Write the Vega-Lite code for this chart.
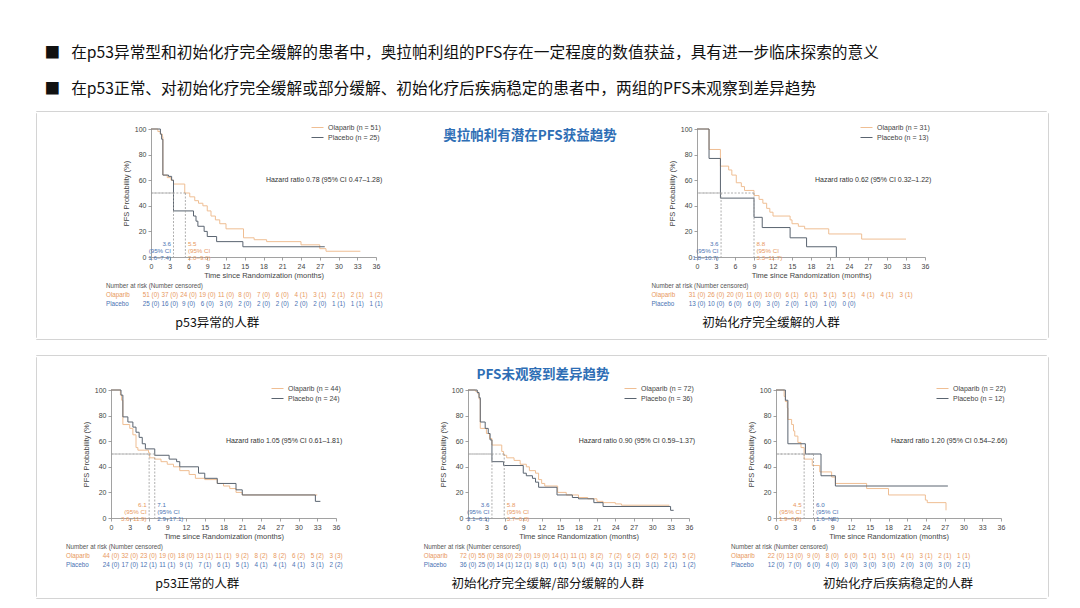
{
"$schema": "https://vega.github.io/schema/vega-lite/v6.json",
"background": "white",
"padding": {"left": 35, "top": 44, "right": 0, "bottom": 0},
"config": {
  "aria": false,
  "view": {"stroke": null},
  "font": "Liberation Sans",
  "axis": {"domainColor": "#8a8a8a", "tickColor": "#8a8a8a", "domainWidth": 0.8, "tickWidth": 0.8, "tickSize": 3, "labelColor": "#444", "labelFontSize": 7, "labelPadding": 2, "titleColor": "#444", "titleFontSize": 7.5, "titleFontWeight": "normal", "titlePadding": 2, "grid": false, "labelFlush": false, "labelOverlap": false},
  "axisY": {"titlePadding": 4},
  "legend": {"orient": "top-right", "offset": -5, "padding": 0, "labelFontSize": 7, "labelColor": "#444", "symbolType": "M-2,0L2,0", "symbolSize": 36, "symbolStrokeWidth": 1, "labelOffset": 7, "rowPadding": 2, "labelLimit": 300}
},
"title": {"text": ["■\u2002\u2009在p53异常型和初始化疗完全缓解的患者中，奥拉帕利组的PFS存在一定程度的数值获益，具有进一步临床探索的意义", "■\u2002\u2009在p53正常、对初始化疗完全缓解或部分缓解、初始化疗后疾病稳定的患者中，两组的PFS未观察到差异趋势"], "anchor": "start", "font": "Noto Sans CJK SC", "fontSize": 15.7, "fontWeight": "normal", "color": "#111", "lineHeight": 36, "dx": 9, "offset": 13},
"datasets": {
  "km1": [
    {"a":"Olaparib","t":0,"s":100},{"a":"Olaparib","t":1.1,"s":98},{"a":"Olaparib","t":1.5,"s":96},{"a":"Olaparib","t":1.8,"s":94},{"a":"Olaparib","t":1.9,"s":64},{"a":"Olaparib","t":2.6,"s":62},{"a":"Olaparib","t":3.2,"s":60},{"a":"Olaparib","t":3.6,"s":57},{"a":"Olaparib","t":5.4,"s":50},{"a":"Olaparib","t":6.2,"s":47},{"a":"Olaparib","t":7.0,"s":44},{"a":"Olaparib","t":7.6,"s":42},{"a":"Olaparib","t":8.3,"s":40},{"a":"Olaparib","t":9.0,"s":36},{"a":"Olaparib","t":9.6,"s":32},{"a":"Olaparib","t":10.3,"s":29},{"a":"Olaparib","t":11.0,"s":26},{"a":"Olaparib","t":12.0,"s":22},{"a":"Olaparib","t":14.8,"s":15},{"a":"Olaparib","t":16.5,"s":13.5},{"a":"Olaparib","t":18.5,"s":12},{"a":"Olaparib","t":24.0,"s":9.5},{"a":"Olaparib","t":27.0,"s":6.5},{"a":"Olaparib","t":28.0,"s":4.5},{"a":"Olaparib","t":33.5,"s":4.5},
    {"a":"Placebo","t":0,"s":100},{"a":"Placebo","t":1.5,"s":96},{"a":"Placebo","t":1.7,"s":92},{"a":"Placebo","t":1.9,"s":64},{"a":"Placebo","t":2.8,"s":63},{"a":"Placebo","t":3.3,"s":60},{"a":"Placebo","t":3.6,"s":36},{"a":"Placebo","t":6.8,"s":32},{"a":"Placebo","t":7.2,"s":28},{"a":"Placebo","t":7.5,"s":24},{"a":"Placebo","t":8.5,"s":20},{"a":"Placebo","t":9.0,"s":16},{"a":"Placebo","t":10.5,"s":12},{"a":"Placebo","t":14.7,"s":8},{"a":"Placebo","t":27.8,"s":8}
  ],
  "km2": [
    {"a":"Olaparib","t":0,"s":100},{"a":"Olaparib","t":1.9,"s":84},{"a":"Olaparib","t":3.7,"s":71},{"a":"Olaparib","t":5.0,"s":68},{"a":"Olaparib","t":5.5,"s":64},{"a":"Olaparib","t":6.2,"s":58},{"a":"Olaparib","t":7.0,"s":55},{"a":"Olaparib","t":7.5,"s":52},{"a":"Olaparib","t":9.0,"s":48},{"a":"Olaparib","t":9.8,"s":45},{"a":"Olaparib","t":10.4,"s":42},{"a":"Olaparib","t":11.0,"s":38},{"a":"Olaparib","t":11.5,"s":35},{"a":"Olaparib","t":12.0,"s":32},{"a":"Olaparib","t":14.7,"s":29},{"a":"Olaparib","t":15.0,"s":26},{"a":"Olaparib","t":16.0,"s":24},{"a":"Olaparib","t":17.0,"s":22},{"a":"Olaparib","t":20.8,"s":18},{"a":"Olaparib","t":26.0,"s":14},{"a":"Olaparib","t":33.0,"s":14},
    {"a":"Placebo","t":0,"s":100},{"a":"Placebo","t":1.9,"s":77},{"a":"Placebo","t":3.7,"s":46},{"a":"Placebo","t":9.0,"s":31},{"a":"Placebo","t":10.3,"s":23},{"a":"Placebo","t":14.7,"s":15},{"a":"Placebo","t":17.3,"s":8},{"a":"Placebo","t":22.0,"s":0}
  ],
  "km3": [
    {"a":"Olaparib","t":0,"s":100},{"a":"Olaparib","t":1.5,"s":96},{"a":"Olaparib","t":1.7,"s":92},{"a":"Olaparib","t":1.9,"s":73},{"a":"Olaparib","t":3.0,"s":70},{"a":"Olaparib","t":3.5,"s":65},{"a":"Olaparib","t":4.0,"s":55},{"a":"Olaparib","t":4.3,"s":53},{"a":"Olaparib","t":6.0,"s":51},{"a":"Olaparib","t":6.2,"s":47},{"a":"Olaparib","t":7.0,"s":46},{"a":"Olaparib","t":8.0,"s":44},{"a":"Olaparib","t":9.0,"s":42},{"a":"Olaparib","t":10.0,"s":40},{"a":"Olaparib","t":11.0,"s":37},{"a":"Olaparib","t":12.5,"s":34},{"a":"Olaparib","t":13.5,"s":31},{"a":"Olaparib","t":15.0,"s":30},{"a":"Olaparib","t":17.0,"s":27},{"a":"Olaparib","t":18.0,"s":25},{"a":"Olaparib","t":19.0,"s":23},{"a":"Olaparib","t":20.0,"s":20},{"a":"Olaparib","t":21.0,"s":18},{"a":"Olaparib","t":33.0,"s":18},
    {"a":"Placebo","t":0,"s":100},{"a":"Placebo","t":1.6,"s":96},{"a":"Placebo","t":1.9,"s":79},{"a":"Placebo","t":2.7,"s":75},{"a":"Placebo","t":3.5,"s":71},{"a":"Placebo","t":4.0,"s":67},{"a":"Placebo","t":4.5,"s":63},{"a":"Placebo","t":5.0,"s":58},{"a":"Placebo","t":5.5,"s":54},{"a":"Placebo","t":7.0,"s":49},{"a":"Placebo","t":9.3,"s":46},{"a":"Placebo","t":10.5,"s":44},{"a":"Placebo","t":11.0,"s":40},{"a":"Placebo","t":14.0,"s":35},{"a":"Placebo","t":15.0,"s":31},{"a":"Placebo","t":17.0,"s":27},{"a":"Placebo","t":20.0,"s":22},{"a":"Placebo","t":21.0,"s":18},{"a":"Placebo","t":32.7,"s":13},{"a":"Placebo","t":33.5,"s":13}
  ],
  "km4": [
    {"a":"Olaparib","t":0,"s":100},{"a":"Olaparib","t":1.2,"s":99},{"a":"Olaparib","t":1.6,"s":97},{"a":"Olaparib","t":1.8,"s":93},{"a":"Olaparib","t":2.0,"s":70},{"a":"Olaparib","t":3.0,"s":66},{"a":"Olaparib","t":3.5,"s":62},{"a":"Olaparib","t":3.9,"s":57},{"a":"Olaparib","t":5.5,"s":52},{"a":"Olaparib","t":5.8,"s":49},{"a":"Olaparib","t":6.3,"s":47},{"a":"Olaparib","t":7.5,"s":45},{"a":"Olaparib","t":8.5,"s":42},{"a":"Olaparib","t":9.5,"s":40},{"a":"Olaparib","t":10.0,"s":37},{"a":"Olaparib","t":11.0,"s":35},{"a":"Olaparib","t":11.5,"s":30},{"a":"Olaparib","t":12.0,"s":27},{"a":"Olaparib","t":12.5,"s":25},{"a":"Olaparib","t":14.6,"s":20},{"a":"Olaparib","t":16.0,"s":18},{"a":"Olaparib","t":18.0,"s":16},{"a":"Olaparib","t":19.5,"s":15},{"a":"Olaparib","t":21.0,"s":13},{"a":"Olaparib","t":22.0,"s":12},{"a":"Olaparib","t":24.0,"s":11},{"a":"Olaparib","t":25.0,"s":10},{"a":"Olaparib","t":32.8,"s":10},
    {"a":"Placebo","t":0,"s":100},{"a":"Placebo","t":1.5,"s":98},{"a":"Placebo","t":1.8,"s":94},{"a":"Placebo","t":2.0,"s":75},{"a":"Placebo","t":2.8,"s":70},{"a":"Placebo","t":3.3,"s":66},{"a":"Placebo","t":3.6,"s":61},{"a":"Placebo","t":3.9,"s":44},{"a":"Placebo","t":5.8,"s":41},{"a":"Placebo","t":9.0,"s":35},{"a":"Placebo","t":9.5,"s":33},{"a":"Placebo","t":10.5,"s":31},{"a":"Placebo","t":11.0,"s":28},{"a":"Placebo","t":11.5,"s":24},{"a":"Placebo","t":14.5,"s":18},{"a":"Placebo","t":17.0,"s":16},{"a":"Placebo","t":18.0,"s":15},{"a":"Placebo","t":20.5,"s":12},{"a":"Placebo","t":22.0,"s":9},{"a":"Placebo","t":33.0,"s":6},{"a":"Placebo","t":33.5,"s":6}
  ],
  "km5": [
    {"a":"Olaparib","t":0,"s":100},{"a":"Olaparib","t":1.3,"s":95},{"a":"Olaparib","t":1.5,"s":91},{"a":"Olaparib","t":1.8,"s":86},{"a":"Olaparib","t":1.9,"s":77},{"a":"Olaparib","t":2.5,"s":73},{"a":"Olaparib","t":2.8,"s":68},{"a":"Olaparib","t":3.0,"s":64},{"a":"Olaparib","t":3.5,"s":59},{"a":"Olaparib","t":4.0,"s":55},{"a":"Olaparib","t":4.5,"s":46},{"a":"Olaparib","t":5.8,"s":41},{"a":"Olaparib","t":7.0,"s":36},{"a":"Olaparib","t":8.9,"s":32},{"a":"Olaparib","t":9.5,"s":27},{"a":"Olaparib","t":14.5,"s":23},{"a":"Olaparib","t":18.0,"s":18},{"a":"Olaparib","t":23.9,"s":14},{"a":"Olaparib","t":24.2,"s":12},{"a":"Olaparib","t":27.2,"s":6},
    {"a":"Placebo","t":0,"s":100},{"a":"Placebo","t":1.5,"s":92},{"a":"Placebo","t":1.9,"s":58},{"a":"Placebo","t":4.7,"s":50},{"a":"Placebo","t":7.2,"s":33},{"a":"Placebo","t":9.5,"s":25},{"a":"Placebo","t":27.5,"s":25}
  ],
  "med1": [{"a":"Placebo","m":3.6,"lab":"3.6\n(95% CI\n1.6–7.4)"},{"a":"Olaparib","m":5.5,"lab":"5.5\n(95% CI\n2.0–9.0)"}],
  "med2": [{"a":"Placebo","m":3.8,"lab":"3.6\n(95% CI\n1.8–10.7)"},{"a":"Olaparib","m":9.0,"lab":"8.8\n(95% CI\n3.3–11.7)"}],
  "med3": [{"a":"Olaparib","m":6.1,"lab":"6.1\n(95% CI\n3.6–11.9)"},{"a":"Placebo","m":7.0,"lab":"7.1\n(95% CI\n2.9–17.1)"}],
  "med4": [{"a":"Placebo","m":3.9,"lab":"3.6\n(95% CI\n3.1–6.1)"},{"a":"Olaparib","m":5.9,"lab":"5.8\n(95% CI\n3.7–6.8)"}],
  "med5": [{"a":"Olaparib","m":4.5,"lab":"4.5\n(95% CI\n1.9–6.9)"},{"a":"Placebo","m":6.0,"lab":"6.0\n(95% CI\n1.6–NE)"}],
  "risk1": [
    {"a":"Olaparib","t":0,"v":"51 (0)"},{"a":"Olaparib","t":3,"v":"37 (0)"},{"a":"Olaparib","t":6,"v":"24 (0)"},{"a":"Olaparib","t":9,"v":"19 (0)"},{"a":"Olaparib","t":12,"v":"11 (0)"},{"a":"Olaparib","t":15,"v":"8 (0)"},{"a":"Olaparib","t":18,"v":"7 (0)"},{"a":"Olaparib","t":21,"v":"6 (0)"},{"a":"Olaparib","t":24,"v":"4 (1)"},{"a":"Olaparib","t":27,"v":"3 (1)"},{"a":"Olaparib","t":30,"v":"2 (1)"},{"a":"Olaparib","t":33,"v":"2 (1)"},{"a":"Olaparib","t":36,"v":"1 (2)"},
    {"a":"Placebo","t":0,"v":"25 (0)"},{"a":"Placebo","t":3,"v":"16 (0)"},{"a":"Placebo","t":6,"v":"9 (0)"},{"a":"Placebo","t":9,"v":"6 (0)"},{"a":"Placebo","t":12,"v":"3 (0)"},{"a":"Placebo","t":15,"v":"2 (0)"},{"a":"Placebo","t":18,"v":"2 (0)"},{"a":"Placebo","t":21,"v":"2 (0)"},{"a":"Placebo","t":24,"v":"2 (0)"},{"a":"Placebo","t":27,"v":"2 (0)"},{"a":"Placebo","t":30,"v":"1 (1)"},{"a":"Placebo","t":33,"v":"1 (1)"},{"a":"Placebo","t":36,"v":"1 (1)"}
  ],
  "risk2": [
    {"a":"Olaparib","t":0,"v":"31 (0)"},{"a":"Olaparib","t":3,"v":"26 (0)"},{"a":"Olaparib","t":6,"v":"20 (0)"},{"a":"Olaparib","t":9,"v":"11 (0)"},{"a":"Olaparib","t":12,"v":"10 (0)"},{"a":"Olaparib","t":15,"v":"6 (1)"},{"a":"Olaparib","t":18,"v":"6 (1)"},{"a":"Olaparib","t":21,"v":"5 (1)"},{"a":"Olaparib","t":24,"v":"5 (1)"},{"a":"Olaparib","t":27,"v":"4 (1)"},{"a":"Olaparib","t":30,"v":"4 (1)"},{"a":"Olaparib","t":33,"v":"3 (1)"},
    {"a":"Placebo","t":0,"v":"13 (0)"},{"a":"Placebo","t":3,"v":"10 (0)"},{"a":"Placebo","t":6,"v":"6 (0)"},{"a":"Placebo","t":9,"v":"6 (0)"},{"a":"Placebo","t":12,"v":"3 (0)"},{"a":"Placebo","t":15,"v":"2 (0)"},{"a":"Placebo","t":18,"v":"1 (0)"},{"a":"Placebo","t":21,"v":"1 (0)"},{"a":"Placebo","t":24,"v":"0 (0)"}
  ],
  "risk3": [
    {"a":"Olaparib","t":0,"v":"44 (0)"},{"a":"Olaparib","t":3,"v":"32 (0)"},{"a":"Olaparib","t":6,"v":"23 (0)"},{"a":"Olaparib","t":9,"v":"19 (0)"},{"a":"Olaparib","t":12,"v":"18 (0)"},{"a":"Olaparib","t":15,"v":"13 (1)"},{"a":"Olaparib","t":18,"v":"11 (1)"},{"a":"Olaparib","t":21,"v":"9 (2)"},{"a":"Olaparib","t":24,"v":"8 (2)"},{"a":"Olaparib","t":27,"v":"8 (2)"},{"a":"Olaparib","t":30,"v":"6 (2)"},{"a":"Olaparib","t":33,"v":"5 (2)"},{"a":"Olaparib","t":36,"v":"3 (3)"},
    {"a":"Placebo","t":0,"v":"24 (0)"},{"a":"Placebo","t":3,"v":"17 (0)"},{"a":"Placebo","t":6,"v":"12 (1)"},{"a":"Placebo","t":9,"v":"11 (1)"},{"a":"Placebo","t":12,"v":"9 (1)"},{"a":"Placebo","t":15,"v":"7 (1)"},{"a":"Placebo","t":18,"v":"6 (1)"},{"a":"Placebo","t":21,"v":"5 (1)"},{"a":"Placebo","t":24,"v":"4 (1)"},{"a":"Placebo","t":27,"v":"4 (1)"},{"a":"Placebo","t":30,"v":"4 (1)"},{"a":"Placebo","t":33,"v":"3 (1)"},{"a":"Placebo","t":36,"v":"2 (2)"}
  ],
  "risk4": [
    {"a":"Olaparib","t":0,"v":"72 (0)"},{"a":"Olaparib","t":3,"v":"55 (0)"},{"a":"Olaparib","t":6,"v":"38 (0)"},{"a":"Olaparib","t":9,"v":"29 (0)"},{"a":"Olaparib","t":12,"v":"19 (0)"},{"a":"Olaparib","t":15,"v":"14 (1)"},{"a":"Olaparib","t":18,"v":"11 (1)"},{"a":"Olaparib","t":21,"v":"8 (2)"},{"a":"Olaparib","t":24,"v":"7 (2)"},{"a":"Olaparib","t":27,"v":"6 (2)"},{"a":"Olaparib","t":30,"v":"6 (2)"},{"a":"Olaparib","t":33,"v":"5 (2)"},{"a":"Olaparib","t":36,"v":"5 (2)"},
    {"a":"Placebo","t":0,"v":"36 (0)"},{"a":"Placebo","t":3,"v":"25 (0)"},{"a":"Placebo","t":6,"v":"14 (1)"},{"a":"Placebo","t":9,"v":"12 (1)"},{"a":"Placebo","t":12,"v":"8 (1)"},{"a":"Placebo","t":15,"v":"6 (1)"},{"a":"Placebo","t":18,"v":"5 (1)"},{"a":"Placebo","t":21,"v":"4 (1)"},{"a":"Placebo","t":24,"v":"3 (1)"},{"a":"Placebo","t":27,"v":"3 (1)"},{"a":"Placebo","t":30,"v":"3 (1)"},{"a":"Placebo","t":33,"v":"2 (1)"},{"a":"Placebo","t":36,"v":"1 (2)"}
  ],
  "risk5": [
    {"a":"Olaparib","t":0,"v":"22 (0)"},{"a":"Olaparib","t":3,"v":"13 (0)"},{"a":"Olaparib","t":6,"v":"9 (0)"},{"a":"Olaparib","t":9,"v":"8 (0)"},{"a":"Olaparib","t":12,"v":"6 (0)"},{"a":"Olaparib","t":15,"v":"5 (1)"},{"a":"Olaparib","t":18,"v":"5 (1)"},{"a":"Olaparib","t":21,"v":"4 (1)"},{"a":"Olaparib","t":24,"v":"3 (1)"},{"a":"Olaparib","t":27,"v":"2 (1)"},{"a":"Olaparib","t":30,"v":"1 (1)"},
    {"a":"Placebo","t":0,"v":"12 (0)"},{"a":"Placebo","t":3,"v":"7 (0)"},{"a":"Placebo","t":6,"v":"6 (0)"},{"a":"Placebo","t":9,"v":"4 (0)"},{"a":"Placebo","t":12,"v":"3 (0)"},{"a":"Placebo","t":15,"v":"3 (0)"},{"a":"Placebo","t":18,"v":"3 (0)"},{"a":"Placebo","t":21,"v":"2 (0)"},{"a":"Placebo","t":24,"v":"3 (0)"},{"a":"Placebo","t":27,"v":"3 (0)"},{"a":"Placebo","t":30,"v":"2 (1)"}
  ]
},
"resolve": {"scale": {"color": "independent"}},
"spacing": 14,
"vconcat": [
  {
    "spacing": 0,
    "resolve": {"scale": {"color": "independent"}},
    "vconcat": [
      {"width": 1010, "height": 0.01, "data": {"values": [{}]}, "mark": {"type": "point", "size": 0, "opacity": 0}, "encoding": {}, "view": {"stroke": "#d4d4d4"}},
      {
        "spacing": 0,
        "resolve": {"scale": {"color": "independent"}},
        "hconcat": [
          {"width": 0.01, "height": 224, "data": {"values": [{}]}, "mark": {"type": "point", "size": 0, "opacity": 0}, "encoding": {}, "view": {"stroke": "#d4d4d4"}},
          {
            "spacing": 0,
            "resolve": {"scale": {"color": "independent"}},
            "vconcat": [
              {"width": 1010, "height": 11, "data": {"values": [{}]}, "mark": {"type": "point", "size": 0, "opacity": 0}, "encoding": {}},
              {
                "spacing": 0,
                "resolve": {"scale": {"color": "independent"}},
                "hconcat": [
                  {"width": 69, "height": 10, "data": {"values": [{}]}, "mark": {"type": "point", "size": 0, "opacity": 0}, "encoding": {}},
                  {
                    "width": 225, "height": 128,
                    "data": {"values": [{}]},
                    "layer": [
                      {"data": {"name": "km1"}, "mark": {"type": "line", "interpolate": "step-after", "strokeWidth": 1},
                       "encoding": {
                         "x": {"field": "t", "type": "quantitative", "scale": {"domain": [0, 36], "nice": false}, "axis": {"values": [0,3,6,9,12,15,18,21,24,27,30,33,36], "labelOverlap": false, "title": "Time since Randomization (months)"}},
                         "y": {"field": "s", "type": "quantitative", "scale": {"domain": [0, 100], "nice": false}, "axis": {"values": [0,20,40,60,80,100], "labelOverlap": false, "title": "PFS Probability (%)"}},
                         "color": {"field": "a", "type": "nominal", "scale": {"domain": ["Olaparib", "Placebo"], "range": ["#EFBE93", "#5A6470"]}, "legend": {"title": null, "labelExpr": "datum.label == 'Olaparib' ? 'Olaparib (n = 51)' : 'Placebo (n = 25)'"}}
                       }},
                      {"data": {"name": "med1"}, "mark": {"type": "rule", "color": "#9a9a9a", "strokeDash": [2, 1.5], "strokeWidth": 0.8}, "encoding": {"x": {"field": "m", "type": "quantitative", "axis": {"values": [0,3,6,9,12,15,18,21,24,27,30,33,36], "labelOverlap": false, "title": "Time since Randomization (months)"}}, "x2": {"datum": 0}, "y": {"datum": 50, "type": "quantitative", "axis": {"values": [0,20,40,60,80,100], "labelOverlap": false, "title": "PFS Probability (%)"}}}},
                      {"data": {"name": "med1"}, "mark": {"type": "rule", "color": "#9a9a9a", "strokeDash": [2, 1.5], "strokeWidth": 0.8}, "encoding": {"x": {"field": "m", "type": "quantitative", "axis": {"values": [0,3,6,9,12,15,18,21,24,27,30,33,36], "labelOverlap": false, "title": "Time since Randomization (months)"}}, "y": {"datum": 50, "type": "quantitative", "axis": {"values": [0,20,40,60,80,100], "labelOverlap": false, "title": "PFS Probability (%)"}}, "y2": {"datum": 0}}},
                      {"data": {"name": "med1"}, "transform": [{"filter": "datum.a == 'Placebo'"}], "mark": {"type": "text", "align": "right", "dx": -2.5, "baseline": "middle", "lineBreak": "\n", "lineHeight": 6.8, "fontSize": 6.2, "color": "#4A73B3"}, "encoding": {"x": {"field": "m", "type": "quantitative", "axis": {"values": [0,3,6,9,12,15,18,21,24,27,30,33,36], "labelOverlap": false, "title": "Time since Randomization (months)"}}, "y": {"datum": 10, "type": "quantitative", "axis": {"values": [0,20,40,60,80,100], "labelOverlap": false, "title": "PFS Probability (%)"}}, "text": {"field": "lab"}}},
                      {"data": {"name": "med1"}, "transform": [{"filter": "datum.a == 'Olaparib'"}], "mark": {"type": "text", "align": "left", "dx": 2.5, "baseline": "middle", "lineBreak": "\n", "lineHeight": 6.8, "fontSize": 6.2, "color": "#E8985E"}, "encoding": {"x": {"field": "m", "type": "quantitative", "axis": {"values": [0,3,6,9,12,15,18,21,24,27,30,33,36], "labelOverlap": false, "title": "Time since Randomization (months)"}}, "y": {"datum": 10, "type": "quantitative", "axis": {"values": [0,20,40,60,80,100], "labelOverlap": false, "title": "PFS Probability (%)"}}, "text": {"field": "lab"}}},
                      {"mark": {"type": "text", "text": "Hazard ratio 0.78 (95% CI 0.47–1.28)", "align": "right", "fontSize": 7, "color": "#333"}, "encoding": {"x": {"datum": 37, "type": "quantitative", "axis": {"values": [0,3,6,9,12,15,18,21,24,27,30,33,36], "labelOverlap": false, "title": "Time since Randomization (months)"}}, "y": {"datum": 60, "type": "quantitative", "axis": {"values": [0,20,40,60,80,100], "labelOverlap": false, "title": "PFS Probability (%)"}}}},
                      {"mark": {"type": "text", "text": "Number at risk (Number censored)", "align": "left", "fontSize": 6.3, "color": "#555"}, "encoding": {"x": {"datum": -7.2, "type": "quantitative", "axis": {"values": [0,3,6,9,12,15,18,21,24,27,30,33,36], "labelOverlap": false, "title": "Time since Randomization (months)"}}, "y": {"datum": -22.7, "type": "quantitative", "axis": {"values": [0,20,40,60,80,100], "labelOverlap": false, "title": "PFS Probability (%)"}}}},
                      {"mark": {"type": "text", "text": "Olaparib", "align": "left", "fontSize": 6.3, "color": "#E8985E"}, "encoding": {"x": {"datum": -7.2, "type": "quantitative", "axis": {"values": [0,3,6,9,12,15,18,21,24,27,30,33,36], "labelOverlap": false, "title": "Time since Randomization (months)"}}, "y": {"datum": -29.7, "type": "quantitative", "axis": {"values": [0,20,40,60,80,100], "labelOverlap": false, "title": "PFS Probability (%)"}}}},
                      {"mark": {"type": "text", "text": "Placebo", "align": "left", "fontSize": 6.3, "color": "#4A73B3"}, "encoding": {"x": {"datum": -7.2, "type": "quantitative", "axis": {"values": [0,3,6,9,12,15,18,21,24,27,30,33,36], "labelOverlap": false, "title": "Time since Randomization (months)"}}, "y": {"datum": -36.7, "type": "quantitative", "axis": {"values": [0,20,40,60,80,100], "labelOverlap": false, "title": "PFS Probability (%)"}}}},
                      {"data": {"name": "risk1"}, "transform": [{"filter": "datum.a == 'Olaparib'"}], "mark": {"type": "text", "fontSize": 6.3, "color": "#E8985E"}, "encoding": {"x": {"field": "t", "type": "quantitative", "axis": {"values": [0,3,6,9,12,15,18,21,24,27,30,33,36], "labelOverlap": false, "title": "Time since Randomization (months)"}}, "y": {"datum": -29.7, "type": "quantitative", "axis": {"values": [0,20,40,60,80,100], "labelOverlap": false, "title": "PFS Probability (%)"}}, "text": {"field": "v"}}},
                      {"data": {"name": "risk1"}, "transform": [{"filter": "datum.a == 'Placebo'"}], "mark": {"type": "text", "fontSize": 6.3, "color": "#4A73B3"}, "encoding": {"x": {"field": "t", "type": "quantitative", "axis": {"values": [0,3,6,9,12,15,18,21,24,27,30,33,36], "labelOverlap": false, "title": "Time since Randomization (months)"}}, "y": {"datum": -36.7, "type": "quantitative", "axis": {"values": [0,20,40,60,80,100], "labelOverlap": false, "title": "PFS Probability (%)"}}, "text": {"field": "v"}}},
                      {"mark": {"type": "text", "text": "p53异常的人群", "font": "Noto Sans CJK SC", "fontSize": 12.5, "color": "#111"}, "encoding": {"x": {"datum": 10.6, "type": "quantitative", "axis": {"values": [0,3,6,9,12,15,18,21,24,27,30,33,36], "labelOverlap": false, "title": "Time since Randomization (months)"}}, "y": {"datum": -51.6, "type": "quantitative", "axis": {"values": [0,20,40,60,80,100], "labelOverlap": false, "title": "PFS Probability (%)"}}}}
                    ]
                  },
                  {"width": 268, "height": 24, "data": {"values": [{}]}, "mark": {"type": "text", "text": "奥拉帕利有潜在PFS获益趋势", "font": "Noto Sans CJK SC", "fontSize": 13.5, "fontWeight": "bold", "color": "#2E6EB5", "dx": 13, "dy": -5}, "encoding": {}},
                  {
                    "width": 228, "height": 128,
                    "data": {"values": [{}]},
                    "layer": [
                      {"data": {"name": "km2"}, "mark": {"type": "line", "interpolate": "step-after", "strokeWidth": 1},
                       "encoding": {
                         "x": {"field": "t", "type": "quantitative", "scale": {"domain": [0, 36], "nice": false}, "axis": {"values": [0,3,6,9,12,15,18,21,24,27,30,33,36], "labelOverlap": false, "title": "Time since Randomization (months)"}},
                         "y": {"field": "s", "type": "quantitative", "scale": {"domain": [0, 100], "nice": false}, "axis": {"values": [0,20,40,60,80,100], "labelOverlap": false, "title": "PFS Probability (%)"}},
                         "color": {"field": "a", "type": "nominal", "scale": {"domain": ["Olaparib", "Placebo"], "range": ["#EFBE93", "#5A6470"]}, "legend": {"title": null, "labelExpr": "datum.label == 'Olaparib' ? 'Olaparib (n = 31)' : 'Placebo (n = 13)'"}}
                       }},
                      {"data": {"name": "med2"}, "mark": {"type": "rule", "color": "#9a9a9a", "strokeDash": [2, 1.5], "strokeWidth": 0.8}, "encoding": {"x": {"field": "m", "type": "quantitative", "axis": {"values": [0,3,6,9,12,15,18,21,24,27,30,33,36], "labelOverlap": false, "title": "Time since Randomization (months)"}}, "x2": {"datum": 0}, "y": {"datum": 50, "type": "quantitative", "axis": {"values": [0,20,40,60,80,100], "labelOverlap": false, "title": "PFS Probability (%)"}}}},
                      {"data": {"name": "med2"}, "mark": {"type": "rule", "color": "#9a9a9a", "strokeDash": [2, 1.5], "strokeWidth": 0.8}, "encoding": {"x": {"field": "m", "type": "quantitative", "axis": {"values": [0,3,6,9,12,15,18,21,24,27,30,33,36], "labelOverlap": false, "title": "Time since Randomization (months)"}}, "y": {"datum": 50, "type": "quantitative", "axis": {"values": [0,20,40,60,80,100], "labelOverlap": false, "title": "PFS Probability (%)"}}, "y2": {"datum": 0}}},
                      {"data": {"name": "med2"}, "transform": [{"filter": "datum.a == 'Placebo'"}], "mark": {"type": "text", "align": "right", "dx": -2.5, "baseline": "middle", "lineBreak": "\n", "lineHeight": 6.8, "fontSize": 6.2, "color": "#4A73B3"}, "encoding": {"x": {"field": "m", "type": "quantitative", "axis": {"values": [0,3,6,9,12,15,18,21,24,27,30,33,36], "labelOverlap": false, "title": "Time since Randomization (months)"}}, "y": {"datum": 10, "type": "quantitative", "axis": {"values": [0,20,40,60,80,100], "labelOverlap": false, "title": "PFS Probability (%)"}}, "text": {"field": "lab"}}},
                      {"data": {"name": "med2"}, "transform": [{"filter": "datum.a == 'Olaparib'"}], "mark": {"type": "text", "align": "left", "dx": 2.5, "baseline": "middle", "lineBreak": "\n", "lineHeight": 6.8, "fontSize": 6.2, "color": "#E8985E"}, "encoding": {"x": {"field": "m", "type": "quantitative", "axis": {"values": [0,3,6,9,12,15,18,21,24,27,30,33,36], "labelOverlap": false, "title": "Time since Randomization (months)"}}, "y": {"datum": 10, "type": "quantitative", "axis": {"values": [0,20,40,60,80,100], "labelOverlap": false, "title": "PFS Probability (%)"}}, "text": {"field": "lab"}}},
                      {"mark": {"type": "text", "text": "Hazard ratio 0.62 (95% CI 0.32–1.22)", "align": "right", "fontSize": 7, "color": "#333"}, "encoding": {"x": {"datum": 37, "type": "quantitative", "axis": {"values": [0,3,6,9,12,15,18,21,24,27,30,33,36], "labelOverlap": false, "title": "Time since Randomization (months)"}}, "y": {"datum": 60, "type": "quantitative", "axis": {"values": [0,20,40,60,80,100], "labelOverlap": false, "title": "PFS Probability (%)"}}}},
                      {"mark": {"type": "text", "text": "Number at risk (Number censored)", "align": "left", "fontSize": 6.3, "color": "#555"}, "encoding": {"x": {"datum": -7.2, "type": "quantitative", "axis": {"values": [0,3,6,9,12,15,18,21,24,27,30,33,36], "labelOverlap": false, "title": "Time since Randomization (months)"}}, "y": {"datum": -22.7, "type": "quantitative", "axis": {"values": [0,20,40,60,80,100], "labelOverlap": false, "title": "PFS Probability (%)"}}}},
                      {"mark": {"type": "text", "text": "Olaparib", "align": "left", "fontSize": 6.3, "color": "#E8985E"}, "encoding": {"x": {"datum": -7.2, "type": "quantitative", "axis": {"values": [0,3,6,9,12,15,18,21,24,27,30,33,36], "labelOverlap": false, "title": "Time since Randomization (months)"}}, "y": {"datum": -29.7, "type": "quantitative", "axis": {"values": [0,20,40,60,80,100], "labelOverlap": false, "title": "PFS Probability (%)"}}}},
                      {"mark": {"type": "text", "text": "Placebo", "align": "left", "fontSize": 6.3, "color": "#4A73B3"}, "encoding": {"x": {"datum": -7.2, "type": "quantitative", "axis": {"values": [0,3,6,9,12,15,18,21,24,27,30,33,36], "labelOverlap": false, "title": "Time since Randomization (months)"}}, "y": {"datum": -36.7, "type": "quantitative", "axis": {"values": [0,20,40,60,80,100], "labelOverlap": false, "title": "PFS Probability (%)"}}}},
                      {"data": {"name": "risk2"}, "transform": [{"filter": "datum.a == 'Olaparib'"}], "mark": {"type": "text", "fontSize": 6.3, "color": "#E8985E"}, "encoding": {"x": {"field": "t", "type": "quantitative", "axis": {"values": [0,3,6,9,12,15,18,21,24,27,30,33,36], "labelOverlap": false, "title": "Time since Randomization (months)"}}, "y": {"datum": -29.7, "type": "quantitative", "axis": {"values": [0,20,40,60,80,100], "labelOverlap": false, "title": "PFS Probability (%)"}}, "text": {"field": "v"}}},
                      {"data": {"name": "risk2"}, "transform": [{"filter": "datum.a == 'Placebo'"}], "mark": {"type": "text", "fontSize": 6.3, "color": "#4A73B3"}, "encoding": {"x": {"field": "t", "type": "quantitative", "axis": {"values": [0,3,6,9,12,15,18,21,24,27,30,33,36], "labelOverlap": false, "title": "Time since Randomization (months)"}}, "y": {"datum": -36.7, "type": "quantitative", "axis": {"values": [0,20,40,60,80,100], "labelOverlap": false, "title": "PFS Probability (%)"}}, "text": {"field": "v"}}},
                      {"mark": {"type": "text", "text": "初始化疗完全缓解的人群", "font": "Noto Sans CJK SC", "fontSize": 12.5, "color": "#111"}, "encoding": {"x": {"datum": 11.7, "type": "quantitative", "axis": {"values": [0,3,6,9,12,15,18,21,24,27,30,33,36], "labelOverlap": false, "title": "Time since Randomization (months)"}}, "y": {"datum": -51.6, "type": "quantitative", "axis": {"values": [0,20,40,60,80,100], "labelOverlap": false, "title": "PFS Probability (%)"}}}}
                    ]
                  }
                ]
              }
            ]
          },
          {"width": 0.01, "height": 224, "data": {"values": [{}]}, "mark": {"type": "point", "size": 0, "opacity": 0}, "encoding": {}, "view": {"stroke": "#d4d4d4"}}
        ]
      },
      {"width": 1010, "height": 0.01, "data": {"values": [{}]}, "mark": {"type": "point", "size": 0, "opacity": 0}, "encoding": {}, "view": {"stroke": "#d4d4d4"}}
    ]
  },
  {
    "spacing": 0,
    "resolve": {"scale": {"color": "independent"}},
    "vconcat": [
      {"width": 1010, "height": 0.01, "data": {"values": [{}]}, "mark": {"type": "point", "size": 0, "opacity": 0}, "encoding": {}, "view": {"stroke": "#d4d4d4"}},
      {
        "spacing": 0,
        "resolve": {"scale": {"color": "independent"}},
        "hconcat": [
          {"width": 0.01, "height": 239, "data": {"values": [{}]}, "mark": {"type": "point", "size": 0, "opacity": 0}, "encoding": {}, "view": {"stroke": "#d4d4d4"}},
          {
            "spacing": 0,
            "resolve": {"scale": {"color": "independent"}},
            "vconcat": [
              {"width": 1010, "height": 28, "data": {"values": [{}]}, "mark": {"type": "text", "text": "PFS未观察到差异趋势", "font": "Noto Sans CJK SC", "fontSize": 13.5, "fontWeight": "bold", "color": "#2E6EB5", "dx": 1, "dy": 4}, "encoding": {}},
              {
                "spacing": 0,
                "resolve": {"scale": {"color": "independent"}},
                "hconcat": [
                  {"width": 29, "height": 10, "data": {"values": [{}]}, "mark": {"type": "point", "size": 0, "opacity": 0}, "encoding": {}},
                  {
                    "width": 225, "height": 128,
                    "data": {"values": [{}]},
                    "layer": [
                      {"data": {"name": "km3"}, "mark": {"type": "line", "interpolate": "step-after", "strokeWidth": 1},
                       "encoding": {
                         "x": {"field": "t", "type": "quantitative", "scale": {"domain": [0, 36], "nice": false}, "axis": {"values": [0,3,6,9,12,15,18,21,24,27,30,33,36], "labelOverlap": false, "title": "Time since Randomization (months)"}},
                         "y": {"field": "s", "type": "quantitative", "scale": {"domain": [0, 100], "nice": false}, "axis": {"values": [0,20,40,60,80,100], "labelOverlap": false, "title": "PFS Probability (%)"}},
                         "color": {"field": "a", "type": "nominal", "scale": {"domain": ["Olaparib", "Placebo"], "range": ["#EFBE93", "#5A6470"]}, "legend": {"title": null, "labelExpr": "datum.label == 'Olaparib' ? 'Olaparib (n = 44)' : 'Placebo (n = 24)'"}}
                       }},
                      {"data": {"name": "med3"}, "mark": {"type": "rule", "color": "#9a9a9a", "strokeDash": [2, 1.5], "strokeWidth": 0.8}, "encoding": {"x": {"field": "m", "type": "quantitative", "axis": {"values": [0,3,6,9,12,15,18,21,24,27,30,33,36], "labelOverlap": false, "title": "Time since Randomization (months)"}}, "x2": {"datum": 0}, "y": {"datum": 50, "type": "quantitative", "axis": {"values": [0,20,40,60,80,100], "labelOverlap": false, "title": "PFS Probability (%)"}}}},
                      {"data": {"name": "med3"}, "mark": {"type": "rule", "color": "#9a9a9a", "strokeDash": [2, 1.5], "strokeWidth": 0.8}, "encoding": {"x": {"field": "m", "type": "quantitative", "axis": {"values": [0,3,6,9,12,15,18,21,24,27,30,33,36], "labelOverlap": false, "title": "Time since Randomization (months)"}}, "y": {"datum": 50, "type": "quantitative", "axis": {"values": [0,20,40,60,80,100], "labelOverlap": false, "title": "PFS Probability (%)"}}, "y2": {"datum": 0}}},
                      {"data": {"name": "med3"}, "transform": [{"filter": "datum.a == 'Olaparib'"}], "mark": {"type": "text", "align": "right", "dx": -2.5, "baseline": "middle", "lineBreak": "\n", "lineHeight": 6.8, "fontSize": 6.2, "color": "#E8985E"}, "encoding": {"x": {"field": "m", "type": "quantitative", "axis": {"values": [0,3,6,9,12,15,18,21,24,27,30,33,36], "labelOverlap": false, "title": "Time since Randomization (months)"}}, "y": {"datum": 10, "type": "quantitative", "axis": {"values": [0,20,40,60,80,100], "labelOverlap": false, "title": "PFS Probability (%)"}}, "text": {"field": "lab"}}},
                      {"data": {"name": "med3"}, "transform": [{"filter": "datum.a == 'Placebo'"}], "mark": {"type": "text", "align": "left", "dx": 2.5, "baseline": "middle", "lineBreak": "\n", "lineHeight": 6.8, "fontSize": 6.2, "color": "#4A73B3"}, "encoding": {"x": {"field": "m", "type": "quantitative", "axis": {"values": [0,3,6,9,12,15,18,21,24,27,30,33,36], "labelOverlap": false, "title": "Time since Randomization (months)"}}, "y": {"datum": 10, "type": "quantitative", "axis": {"values": [0,20,40,60,80,100], "labelOverlap": false, "title": "PFS Probability (%)"}}, "text": {"field": "lab"}}},
                      {"mark": {"type": "text", "text": "Hazard ratio 1.05 (95% CI 0.61–1.81)", "align": "right", "fontSize": 7, "color": "#333"}, "encoding": {"x": {"datum": 37, "type": "quantitative", "axis": {"values": [0,3,6,9,12,15,18,21,24,27,30,33,36], "labelOverlap": false, "title": "Time since Randomization (months)"}}, "y": {"datum": 60, "type": "quantitative", "axis": {"values": [0,20,40,60,80,100], "labelOverlap": false, "title": "PFS Probability (%)"}}}},
                      {"mark": {"type": "text", "text": "Number at risk (Number censored)", "align": "left", "fontSize": 6.3, "color": "#555"}, "encoding": {"x": {"datum": -7.2, "type": "quantitative", "axis": {"values": [0,3,6,9,12,15,18,21,24,27,30,33,36], "labelOverlap": false, "title": "Time since Randomization (months)"}}, "y": {"datum": -22.7, "type": "quantitative", "axis": {"values": [0,20,40,60,80,100], "labelOverlap": false, "title": "PFS Probability (%)"}}}},
                      {"mark": {"type": "text", "text": "Olaparib", "align": "left", "fontSize": 6.3, "color": "#E8985E"}, "encoding": {"x": {"datum": -7.2, "type": "quantitative", "axis": {"values": [0,3,6,9,12,15,18,21,24,27,30,33,36], "labelOverlap": false, "title": "Time since Randomization (months)"}}, "y": {"datum": -29.7, "type": "quantitative", "axis": {"values": [0,20,40,60,80,100], "labelOverlap": false, "title": "PFS Probability (%)"}}}},
                      {"mark": {"type": "text", "text": "Placebo", "align": "left", "fontSize": 6.3, "color": "#4A73B3"}, "encoding": {"x": {"datum": -7.2, "type": "quantitative", "axis": {"values": [0,3,6,9,12,15,18,21,24,27,30,33,36], "labelOverlap": false, "title": "Time since Randomization (months)"}}, "y": {"datum": -36.7, "type": "quantitative", "axis": {"values": [0,20,40,60,80,100], "labelOverlap": false, "title": "PFS Probability (%)"}}}},
                      {"data": {"name": "risk3"}, "transform": [{"filter": "datum.a == 'Olaparib'"}], "mark": {"type": "text", "fontSize": 6.3, "color": "#E8985E"}, "encoding": {"x": {"field": "t", "type": "quantitative", "axis": {"values": [0,3,6,9,12,15,18,21,24,27,30,33,36], "labelOverlap": false, "title": "Time since Randomization (months)"}}, "y": {"datum": -29.7, "type": "quantitative", "axis": {"values": [0,20,40,60,80,100], "labelOverlap": false, "title": "PFS Probability (%)"}}, "text": {"field": "v"}}},
                      {"data": {"name": "risk3"}, "transform": [{"filter": "datum.a == 'Placebo'"}], "mark": {"type": "text", "fontSize": 6.3, "color": "#4A73B3"}, "encoding": {"x": {"field": "t", "type": "quantitative", "axis": {"values": [0,3,6,9,12,15,18,21,24,27,30,33,36], "labelOverlap": false, "title": "Time since Randomization (months)"}}, "y": {"datum": -36.7, "type": "quantitative", "axis": {"values": [0,20,40,60,80,100], "labelOverlap": false, "title": "PFS Probability (%)"}}, "text": {"field": "v"}}},
                      {"mark": {"type": "text", "text": "p53正常的人群", "font": "Noto Sans CJK SC", "fontSize": 12.5, "color": "#111"}, "encoding": {"x": {"datum": 13.8, "type": "quantitative", "axis": {"values": [0,3,6,9,12,15,18,21,24,27,30,33,36], "labelOverlap": false, "title": "Time since Randomization (months)"}}, "y": {"datum": -51.6, "type": "quantitative", "axis": {"values": [0,20,40,60,80,100], "labelOverlap": false, "title": "PFS Probability (%)"}}}}
                    ]
                  },
                  {"width": 80, "height": 10, "data": {"values": [{}]}, "mark": {"type": "point", "size": 0, "opacity": 0}, "encoding": {}},
                  {
                    "width": 221, "height": 128,
                    "data": {"values": [{}]},
                    "layer": [
                      {"data": {"name": "km4"}, "mark": {"type": "line", "interpolate": "step-after", "strokeWidth": 1},
                       "encoding": {
                         "x": {"field": "t", "type": "quantitative", "scale": {"domain": [0, 36], "nice": false}, "axis": {"values": [0,3,6,9,12,15,18,21,24,27,30,33,36], "labelOverlap": false, "title": "Time since Randomization (months)"}},
                         "y": {"field": "s", "type": "quantitative", "scale": {"domain": [0, 100], "nice": false}, "axis": {"values": [0,20,40,60,80,100], "labelOverlap": false, "title": "PFS Probability (%)"}},
                         "color": {"field": "a", "type": "nominal", "scale": {"domain": ["Olaparib", "Placebo"], "range": ["#EFBE93", "#5A6470"]}, "legend": {"title": null, "labelExpr": "datum.label == 'Olaparib' ? 'Olaparib (n = 72)' : 'Placebo (n = 36)'"}}
                       }},
                      {"data": {"name": "med4"}, "mark": {"type": "rule", "color": "#9a9a9a", "strokeDash": [2, 1.5], "strokeWidth": 0.8}, "encoding": {"x": {"field": "m", "type": "quantitative", "axis": {"values": [0,3,6,9,12,15,18,21,24,27,30,33,36], "labelOverlap": false, "title": "Time since Randomization (months)"}}, "x2": {"datum": 0}, "y": {"datum": 50, "type": "quantitative", "axis": {"values": [0,20,40,60,80,100], "labelOverlap": false, "title": "PFS Probability (%)"}}}},
                      {"data": {"name": "med4"}, "mark": {"type": "rule", "color": "#9a9a9a", "strokeDash": [2, 1.5], "strokeWidth": 0.8}, "encoding": {"x": {"field": "m", "type": "quantitative", "axis": {"values": [0,3,6,9,12,15,18,21,24,27,30,33,36], "labelOverlap": false, "title": "Time since Randomization (months)"}}, "y": {"datum": 50, "type": "quantitative", "axis": {"values": [0,20,40,60,80,100], "labelOverlap": false, "title": "PFS Probability (%)"}}, "y2": {"datum": 0}}},
                      {"data": {"name": "med4"}, "transform": [{"filter": "datum.a == 'Placebo'"}], "mark": {"type": "text", "align": "right", "dx": -2.5, "baseline": "middle", "lineBreak": "\n", "lineHeight": 6.8, "fontSize": 6.2, "color": "#4A73B3"}, "encoding": {"x": {"field": "m", "type": "quantitative", "axis": {"values": [0,3,6,9,12,15,18,21,24,27,30,33,36], "labelOverlap": false, "title": "Time since Randomization (months)"}}, "y": {"datum": 10, "type": "quantitative", "axis": {"values": [0,20,40,60,80,100], "labelOverlap": false, "title": "PFS Probability (%)"}}, "text": {"field": "lab"}}},
                      {"data": {"name": "med4"}, "transform": [{"filter": "datum.a == 'Olaparib'"}], "mark": {"type": "text", "align": "left", "dx": 2.5, "baseline": "middle", "lineBreak": "\n", "lineHeight": 6.8, "fontSize": 6.2, "color": "#E8985E"}, "encoding": {"x": {"field": "m", "type": "quantitative", "axis": {"values": [0,3,6,9,12,15,18,21,24,27,30,33,36], "labelOverlap": false, "title": "Time since Randomization (months)"}}, "y": {"datum": 10, "type": "quantitative", "axis": {"values": [0,20,40,60,80,100], "labelOverlap": false, "title": "PFS Probability (%)"}}, "text": {"field": "lab"}}},
                      {"mark": {"type": "text", "text": "Hazard ratio 0.90 (95% CI 0.59–1.37)", "align": "right", "fontSize": 7, "color": "#333"}, "encoding": {"x": {"datum": 37, "type": "quantitative", "axis": {"values": [0,3,6,9,12,15,18,21,24,27,30,33,36], "labelOverlap": false, "title": "Time since Randomization (months)"}}, "y": {"datum": 60, "type": "quantitative", "axis": {"values": [0,20,40,60,80,100], "labelOverlap": false, "title": "PFS Probability (%)"}}}},
                      {"mark": {"type": "text", "text": "Number at risk (Number censored)", "align": "left", "fontSize": 6.3, "color": "#555"}, "encoding": {"x": {"datum": -7.2, "type": "quantitative", "axis": {"values": [0,3,6,9,12,15,18,21,24,27,30,33,36], "labelOverlap": false, "title": "Time since Randomization (months)"}}, "y": {"datum": -22.7, "type": "quantitative", "axis": {"values": [0,20,40,60,80,100], "labelOverlap": false, "title": "PFS Probability (%)"}}}},
                      {"mark": {"type": "text", "text": "Olaparib", "align": "left", "fontSize": 6.3, "color": "#E8985E"}, "encoding": {"x": {"datum": -7.2, "type": "quantitative", "axis": {"values": [0,3,6,9,12,15,18,21,24,27,30,33,36], "labelOverlap": false, "title": "Time since Randomization (months)"}}, "y": {"datum": -29.7, "type": "quantitative", "axis": {"values": [0,20,40,60,80,100], "labelOverlap": false, "title": "PFS Probability (%)"}}}},
                      {"mark": {"type": "text", "text": "Placebo", "align": "left", "fontSize": 6.3, "color": "#4A73B3"}, "encoding": {"x": {"datum": -7.2, "type": "quantitative", "axis": {"values": [0,3,6,9,12,15,18,21,24,27,30,33,36], "labelOverlap": false, "title": "Time since Randomization (months)"}}, "y": {"datum": -36.7, "type": "quantitative", "axis": {"values": [0,20,40,60,80,100], "labelOverlap": false, "title": "PFS Probability (%)"}}}},
                      {"data": {"name": "risk4"}, "transform": [{"filter": "datum.a == 'Olaparib'"}], "mark": {"type": "text", "fontSize": 6.3, "color": "#E8985E"}, "encoding": {"x": {"field": "t", "type": "quantitative", "axis": {"values": [0,3,6,9,12,15,18,21,24,27,30,33,36], "labelOverlap": false, "title": "Time since Randomization (months)"}}, "y": {"datum": -29.7, "type": "quantitative", "axis": {"values": [0,20,40,60,80,100], "labelOverlap": false, "title": "PFS Probability (%)"}}, "text": {"field": "v"}}},
                      {"data": {"name": "risk4"}, "transform": [{"filter": "datum.a == 'Placebo'"}], "mark": {"type": "text", "fontSize": 6.3, "color": "#4A73B3"}, "encoding": {"x": {"field": "t", "type": "quantitative", "axis": {"values": [0,3,6,9,12,15,18,21,24,27,30,33,36], "labelOverlap": false, "title": "Time since Randomization (months)"}}, "y": {"datum": -36.7, "type": "quantitative", "axis": {"values": [0,20,40,60,80,100], "labelOverlap": false, "title": "PFS Probability (%)"}}, "text": {"field": "v"}}},
                      {"mark": {"type": "text", "text": "初始化疗完全缓解/部分缓解的人群", "font": "Noto Sans CJK SC", "fontSize": 12.5, "color": "#111"}, "encoding": {"x": {"datum": 13.0, "type": "quantitative", "axis": {"values": [0,3,6,9,12,15,18,21,24,27,30,33,36], "labelOverlap": false, "title": "Time since Randomization (months)"}}, "y": {"datum": -51.6, "type": "quantitative", "axis": {"values": [0,20,40,60,80,100], "labelOverlap": false, "title": "PFS Probability (%)"}}}}
                    ]
                  },
                  {"width": 35, "height": 10, "data": {"values": [{}]}, "mark": {"type": "point", "size": 0, "opacity": 0}, "encoding": {}},
                  {
                    "width": 225, "height": 128,
                    "data": {"values": [{}]},
                    "layer": [
                      {"data": {"name": "km5"}, "mark": {"type": "line", "interpolate": "step-after", "strokeWidth": 1},
                       "encoding": {
                         "x": {"field": "t", "type": "quantitative", "scale": {"domain": [0, 36], "nice": false}, "axis": {"values": [0,3,6,9,12,15,18,21,24,27,30,33,36], "labelOverlap": false, "title": "Time since Randomization (months)"}},
                         "y": {"field": "s", "type": "quantitative", "scale": {"domain": [0, 100], "nice": false}, "axis": {"values": [0,20,40,60,80,100], "labelOverlap": false, "title": "PFS Probability (%)"}},
                         "color": {"field": "a", "type": "nominal", "scale": {"domain": ["Olaparib", "Placebo"], "range": ["#EFBE93", "#5A6470"]}, "legend": {"title": null, "labelExpr": "datum.label == 'Olaparib' ? 'Olaparib (n = 22)' : 'Placebo (n = 12)'"}}
                       }},
                      {"data": {"name": "med5"}, "mark": {"type": "rule", "color": "#9a9a9a", "strokeDash": [2, 1.5], "strokeWidth": 0.8}, "encoding": {"x": {"field": "m", "type": "quantitative", "axis": {"values": [0,3,6,9,12,15,18,21,24,27,30,33,36], "labelOverlap": false, "title": "Time since Randomization (months)"}}, "x2": {"datum": 0}, "y": {"datum": 50, "type": "quantitative", "axis": {"values": [0,20,40,60,80,100], "labelOverlap": false, "title": "PFS Probability (%)"}}}},
                      {"data": {"name": "med5"}, "mark": {"type": "rule", "color": "#9a9a9a", "strokeDash": [2, 1.5], "strokeWidth": 0.8}, "encoding": {"x": {"field": "m", "type": "quantitative", "axis": {"values": [0,3,6,9,12,15,18,21,24,27,30,33,36], "labelOverlap": false, "title": "Time since Randomization (months)"}}, "y": {"datum": 50, "type": "quantitative", "axis": {"values": [0,20,40,60,80,100], "labelOverlap": false, "title": "PFS Probability (%)"}}, "y2": {"datum": 0}}},
                      {"data": {"name": "med5"}, "transform": [{"filter": "datum.a == 'Olaparib'"}], "mark": {"type": "text", "align": "right", "dx": -2.5, "baseline": "middle", "lineBreak": "\n", "lineHeight": 6.8, "fontSize": 6.2, "color": "#E8985E"}, "encoding": {"x": {"field": "m", "type": "quantitative", "axis": {"values": [0,3,6,9,12,15,18,21,24,27,30,33,36], "labelOverlap": false, "title": "Time since Randomization (months)"}}, "y": {"datum": 10, "type": "quantitative", "axis": {"values": [0,20,40,60,80,100], "labelOverlap": false, "title": "PFS Probability (%)"}}, "text": {"field": "lab"}}},
                      {"data": {"name": "med5"}, "transform": [{"filter": "datum.a == 'Placebo'"}], "mark": {"type": "text", "align": "left", "dx": 2.5, "baseline": "middle", "lineBreak": "\n", "lineHeight": 6.8, "fontSize": 6.2, "color": "#4A73B3"}, "encoding": {"x": {"field": "m", "type": "quantitative", "axis": {"values": [0,3,6,9,12,15,18,21,24,27,30,33,36], "labelOverlap": false, "title": "Time since Randomization (months)"}}, "y": {"datum": 10, "type": "quantitative", "axis": {"values": [0,20,40,60,80,100], "labelOverlap": false, "title": "PFS Probability (%)"}}, "text": {"field": "lab"}}},
                      {"mark": {"type": "text", "text": "Hazard ratio 1.20 (95% CI 0.54–2.66)", "align": "right", "fontSize": 7, "color": "#333"}, "encoding": {"x": {"datum": 37, "type": "quantitative", "axis": {"values": [0,3,6,9,12,15,18,21,24,27,30,33,36], "labelOverlap": false, "title": "Time since Randomization (months)"}}, "y": {"datum": 60, "type": "quantitative", "axis": {"values": [0,20,40,60,80,100], "labelOverlap": false, "title": "PFS Probability (%)"}}}},
                      {"mark": {"type": "text", "text": "Number at risk (Number censored)", "align": "left", "fontSize": 6.3, "color": "#555"}, "encoding": {"x": {"datum": -7.2, "type": "quantitative", "axis": {"values": [0,3,6,9,12,15,18,21,24,27,30,33,36], "labelOverlap": false, "title": "Time since Randomization (months)"}}, "y": {"datum": -22.7, "type": "quantitative", "axis": {"values": [0,20,40,60,80,100], "labelOverlap": false, "title": "PFS Probability (%)"}}}},
                      {"mark": {"type": "text", "text": "Olaparib", "align": "left", "fontSize": 6.3, "color": "#E8985E"}, "encoding": {"x": {"datum": -7.2, "type": "quantitative", "axis": {"values": [0,3,6,9,12,15,18,21,24,27,30,33,36], "labelOverlap": false, "title": "Time since Randomization (months)"}}, "y": {"datum": -29.7, "type": "quantitative", "axis": {"values": [0,20,40,60,80,100], "labelOverlap": false, "title": "PFS Probability (%)"}}}},
                      {"mark": {"type": "text", "text": "Placebo", "align": "left", "fontSize": 6.3, "color": "#4A73B3"}, "encoding": {"x": {"datum": -7.2, "type": "quantitative", "axis": {"values": [0,3,6,9,12,15,18,21,24,27,30,33,36], "labelOverlap": false, "title": "Time since Randomization (months)"}}, "y": {"datum": -36.7, "type": "quantitative", "axis": {"values": [0,20,40,60,80,100], "labelOverlap": false, "title": "PFS Probability (%)"}}}},
                      {"data": {"name": "risk5"}, "transform": [{"filter": "datum.a == 'Olaparib'"}], "mark": {"type": "text", "fontSize": 6.3, "color": "#E8985E"}, "encoding": {"x": {"field": "t", "type": "quantitative", "axis": {"values": [0,3,6,9,12,15,18,21,24,27,30,33,36], "labelOverlap": false, "title": "Time since Randomization (months)"}}, "y": {"datum": -29.7, "type": "quantitative", "axis": {"values": [0,20,40,60,80,100], "labelOverlap": false, "title": "PFS Probability (%)"}}, "text": {"field": "v"}}},
                      {"data": {"name": "risk5"}, "transform": [{"filter": "datum.a == 'Placebo'"}], "mark": {"type": "text", "fontSize": 6.3, "color": "#4A73B3"}, "encoding": {"x": {"field": "t", "type": "quantitative", "axis": {"values": [0,3,6,9,12,15,18,21,24,27,30,33,36], "labelOverlap": false, "title": "Time since Randomization (months)"}}, "y": {"datum": -36.7, "type": "quantitative", "axis": {"values": [0,20,40,60,80,100], "labelOverlap": false, "title": "PFS Probability (%)"}}, "text": {"field": "v"}}},
                      {"mark": {"type": "text", "text": "初始化疗后疾病稳定的人群", "font": "Noto Sans CJK SC", "fontSize": 12.5, "color": "#111"}, "encoding": {"x": {"datum": 19.5, "type": "quantitative", "axis": {"values": [0,3,6,9,12,15,18,21,24,27,30,33,36], "labelOverlap": false, "title": "Time since Randomization (months)"}}, "y": {"datum": -51.6, "type": "quantitative", "axis": {"values": [0,20,40,60,80,100], "labelOverlap": false, "title": "PFS Probability (%)"}}}}
                    ]
                  }
                ]
              }
            ]
          },
          {"width": 0.01, "height": 239, "data": {"values": [{}]}, "mark": {"type": "point", "size": 0, "opacity": 0}, "encoding": {}, "view": {"stroke": "#d4d4d4"}}
        ]
      },
      {"width": 1010, "height": 0.01, "data": {"values": [{}]}, "mark": {"type": "point", "size": 0, "opacity": 0}, "encoding": {}, "view": {"stroke": "#d4d4d4"}}
    ]
  }
]
}
